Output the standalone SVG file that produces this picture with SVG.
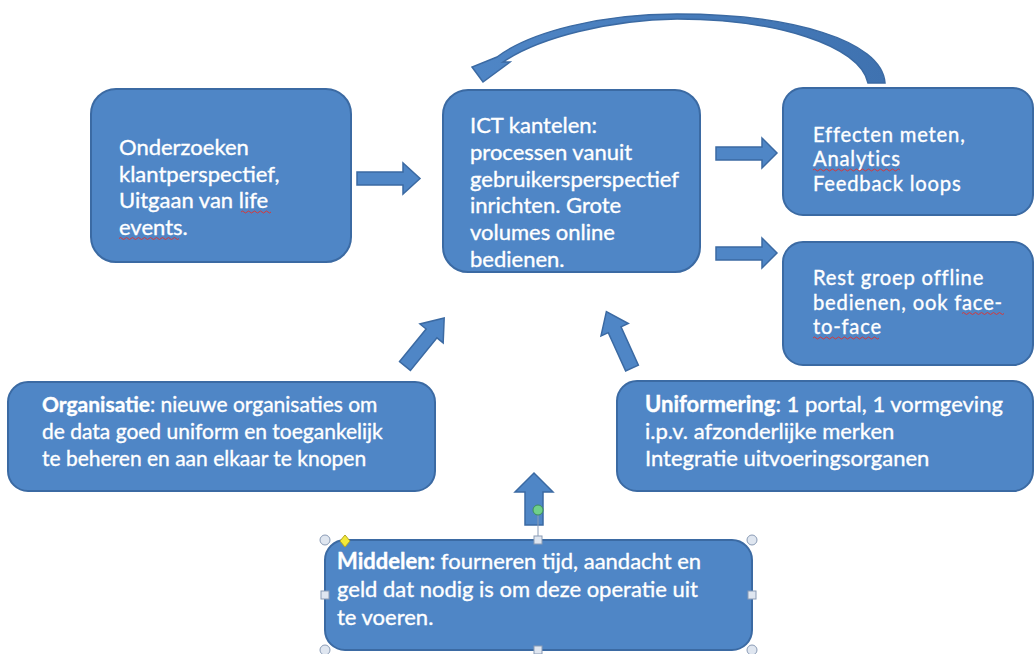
<svg xmlns="http://www.w3.org/2000/svg" width="1035" height="654" viewBox="0 0 1035 654">
<defs>
<style>
.box{fill:#4f86c6;stroke:#3b6aa3;stroke-width:2}
.t{font-family:Lato,"Open Sans","DejaVu Sans",sans-serif;font-size:22px;fill:#ffffff;stroke:#ffffff;stroke-width:0.35}
.s21{font-size:21px}
.s20{font-size:20.2px;letter-spacing:0.8px}
.b{font-weight:bold}
.arr{fill:#4f86c6;stroke:#3b6aa3;stroke-width:1.5;stroke-linejoin:miter}
.sq{fill:none;stroke:#d93838;stroke-width:1}
.hc{fill:#dfe6f0;stroke:#8a9bb5;stroke-width:1}
</style>
<linearGradient id="cg" x1="0" y1="0" x2="1" y2="0">
<stop offset="0" stop-color="#4f86c6"/>
<stop offset="1" stop-color="#3f72b0"/>
</linearGradient>
<polygon id="diag" points="0,-7 42,-7 42,-15 62,0 42,15 42,7 0,7"/>
</defs>
<rect width="1035" height="654" fill="#ffffff"/>

<g id="connectors">
<path class="arr" style="fill:url(#cg)" d="M 885 83 C 882 40 790 14 677 14 C 600 14 530 32 497 57 L 472 67 L 483 82 L 510 62 L 503 62 C 540 37 610 20 677 19 C 775 19 860 45 868 83 Z"/>
<polygon class="arr" points="357,172 403,172 403,163 420,178.5 403,194 403,185 357,185"/>
<polygon class="arr" points="716,147 762,147 762,138 777,153 762,168 762,160 716,160"/>
<polygon class="arr" points="716,247 762,247 762,238 777,253 762,268 762,260 716,260"/>
<use href="#diag" class="arr" transform="translate(405,366) rotate(-50.8)"/>
<use href="#diag" class="arr" transform="translate(632,368) rotate(-114.4)"/>
<polygon class="arr" points="525,525 525,492 515,492 534,473 553,492 543,492 543,525"/>
</g>

<g id="node-onderzoeken">
<rect class="box" x="91" y="89" width="260" height="173" rx="25"/>
<text class="t"><tspan x="119" y="155">Onderzoeken</tspan><tspan x="119" y="181.5">klantperspectief,</tspan><tspan x="119" y="208">Uitgaan van life</tspan><tspan x="119" y="234.5">events.</tspan></text>
<path class="sq" d="M 241 212 q 1.5 -2 3 0 t 3 0 t 3 0 t 3 0 t 3 0 t 3 0 t 3 0 t 3 0 t 3 0 t 3 0 M 119 238.5 q 1.5 -2 3 0 t 3 0 t 3 0 t 3 0 t 3 0 t 3 0 t 3 0 t 3 0 t 3 0 t 3 0 t 3 0 t 3 0 t 3 0 t 3 0 t 3 0 t 3 0 t 3 0 t 3 0 t 3 0 t 3 0"/>
</g>

<g id="node-ict">
<rect class="box" x="443" y="90" width="257" height="182" rx="25"/>
<text class="t"><tspan x="470" y="133">ICT kantelen:</tspan><tspan x="470" y="160">processen vanuit</tspan><tspan x="470" y="186.5">gebruikersperspectief</tspan><tspan x="470" y="213">inrichten. Grote</tspan><tspan x="470" y="240">volumes online</tspan><tspan x="470" y="266.5">bedienen.</tspan></text>
</g>

<g id="node-effecten">
<rect class="box" x="783" y="88" width="250" height="127" rx="20"/>
<text class="t s20"><tspan x="813" y="141.5">Effecten meten,</tspan><tspan x="813" y="166">Analytics</tspan><tspan x="813" y="190.5">Feedback loops</tspan></text>
<path class="sq" d="M 813 170 q 1.5 -2 3 0 t 3 0 t 3 0 t 3 0 t 3 0 t 3 0 t 3 0 t 3 0 t 3 0 t 3 0 t 3 0 t 3 0 t 3 0 t 3 0 t 3 0 t 3 0 t 3 0 t 3 0 t 3 0 t 3 0 t 3 0 t 3 0 t 3 0 t 3 0 t 3 0 t 3 0 t 3 0 t 3 0 t 3 0"/>
</g>

<g id="node-rest">
<rect class="box" x="783" y="242" width="250" height="123" rx="20"/>
<text class="t s20"><tspan x="813" y="285">Rest groep offline</tspan><tspan x="813" y="309.5">bedienen, ook face-</tspan><tspan x="813" y="334">to-face</tspan></text>
<path class="sq" d="M 962 313.5 q 1.5 -2 3 0 t 3 0 t 3 0 t 3 0 t 3 0 t 3 0 t 3 0 t 3 0 t 3 0 t 3 0 t 3 0 t 3 0 t 3 0 t 3 0 M 813 338 q 1.5 -2 3 0 t 3 0 t 3 0 t 3 0 t 3 0 t 3 0 t 3 0 t 3 0 t 3 0 t 3 0 t 3 0 t 3 0 t 3 0 t 3 0 t 3 0 t 3 0 t 3 0 t 3 0 t 3 0 t 3 0 t 3 0 t 3 0"/>
</g>

<g id="node-organisatie">
<rect class="box" x="8" y="382" width="427" height="109" rx="20"/>
<text class="t s21"><tspan x="42" y="412"><tspan class="b">Organisatie</tspan>: nieuwe organisaties om</tspan><tspan x="42" y="439">de data goed uniform en toegankelijk</tspan><tspan x="42" y="466">te beheren en aan elkaar te knopen</tspan></text>
</g>

<g id="node-uniformering">
<rect class="box" x="617" y="381" width="416" height="110" rx="20"/>
<text class="t"><tspan x="645" y="412"><tspan class="b">Uniformering</tspan>: 1 portal, 1 vormgeving</tspan><tspan x="645" y="439">i.p.v. afzonderlijke merken</tspan><tspan x="645" y="466">Integratie uitvoeringsorganen</tspan></text>
</g>

<g id="node-middelen">
<rect class="box" x="325" y="540" width="427" height="110" rx="20"/>
<text class="t"><tspan x="337" y="569"><tspan class="b">Middelen:</tspan> fourneren tijd, aandacht en</tspan><tspan x="337" y="597">geld dat nodig is om deze operatie uit</tspan><tspan x="337" y="625">te voeren.</tspan></text>
<g id="selection-handles">
<line x1="538" y1="510" x2="538" y2="540" stroke="#8a9bb5" stroke-width="1"/>
<circle cx="538" cy="510" r="5" fill="#6fd08a" stroke="#3f8f5a" stroke-width="1"/>
<circle class="hc" cx="325" cy="540" r="5"/>
<circle class="hc" cx="752" cy="540" r="5"/>
<circle class="hc" cx="325" cy="650" r="5"/>
<circle class="hc" cx="752" cy="650" r="5"/>
<rect class="hc" x="534" y="536" width="8" height="8"/>
<rect class="hc" x="534" y="646" width="8" height="8"/>
<rect class="hc" x="321" y="591" width="8" height="8"/>
<rect class="hc" x="748" y="591" width="8" height="8"/>
<polygon points="345,535 350,541 345,547 340,541" fill="#f2e93a" stroke="#b5a520" stroke-width="1"/>
</g>
</g>
</svg>
